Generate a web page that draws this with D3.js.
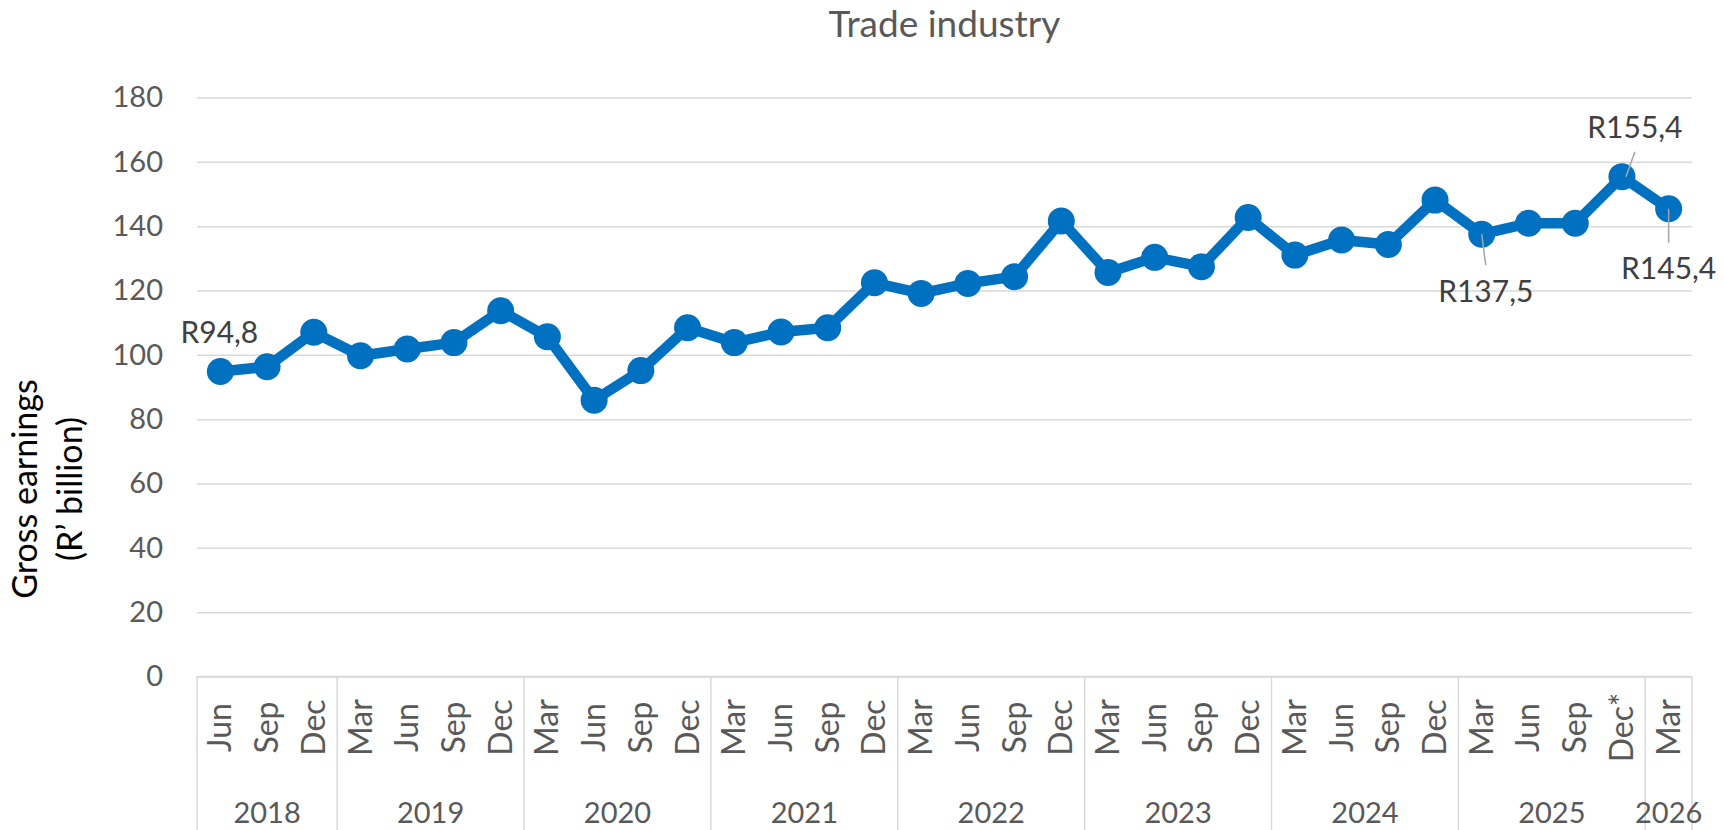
<!DOCTYPE html>
<html>
<head>
<meta charset="utf-8">
<script src="https://cdn.jsdelivr.net/npm/d3@7"></script>
<style>
  body { margin: 0; background: #fff; }
  svg text { font-family: Lato, "Open Sans", sans-serif; }
</style>
</head>
<body>
<div id="chart"></div>
<script>
// Data
const years = ["2018", "2019", "2020", "2021", "2022", "2023", "2024", "2025", "2026"];
const months = [
  ["Jun", "Sep", "Dec"],
  ["Mar", "Jun", "Sep", "Dec"],
  ["Mar", "Jun", "Sep", "Dec"],
  ["Mar", "Jun", "Sep", "Dec"],
  ["Mar", "Jun", "Sep", "Dec"],
  ["Mar", "Jun", "Sep", "Dec"],
  ["Mar", "Jun", "Sep", "Dec"],
  ["Mar", "Jun", "Sep", "Dec*"],
  ["Mar"]
];
const earnings = [
  94.8, 96.3, 107.0,
  99.7, 101.8, 103.8, 113.7,
  105.6, 85.9, 95.1, 108.4,
  103.8, 107.1, 108.4, 122.4,
  119.1, 122.2, 124.3, 141.6,
  125.6, 130.3, 127.4, 142.7,
  131.0, 135.7, 134.3, 148.1,
  137.5, 140.9, 140.9, 155.4,
  145.4
];
const yTicks = [0, 20, 40, 60, 80, 100, 120, 140, 160, 180];
const labelledPoints = [0, 27, 30, 31];

// flatten categories
const cats = [];
months.forEach((ms, yi) => ms.forEach(m => cats.push({ key: years[yi] + "-" + m, month: m, year: years[yi] })));

const W = 1724, H = 830;
const margin = { top: 97.5, right: 32, bottom: 153.5, left: 197 };
const width = W - margin.left - margin.right,
      height = H - margin.top - margin.bottom;

const svg = d3.select("#chart").append("svg")
    .attr("width", W)
    .attr("height", H);

const g = svg.append("g")
    .attr("transform", `translate(${margin.left},${margin.top})`);

const x = d3.scaleBand()
    .domain(cats.map(d => d.key))
    .range([0, width])
    .padding(0);

const y = d3.scaleLinear()
    .domain([0, 180])
    .range([height, 0]);

// Title
svg.append("text")
    .attr("x", margin.left + width / 2)
    .attr("y", 37)
    .attr("text-anchor", "middle")
    .attr("fill", "#595959")
    .style("font-size", "37px")
    .text("Trade industry");

// Y axis + gridlines
const yAxis = g.append("g")
    .call(d3.axisLeft(y).tickValues(yTicks).tickSize(-width).tickPadding(34));
yAxis.select(".domain").remove();
yAxis.selectAll(".tick line")
    .attr("stroke", "#D9D9D9")
    .attr("stroke-width", 1.5);
yAxis.selectAll(".tick text")
    .attr("fill", "#595959")
    .style("font-size", "29px");

// Y axis title
const yTitle = svg.append("text")
    .attr("transform", `translate(0,489) rotate(-90)`)
    .attr("text-anchor", "middle")
    .attr("fill", "#000")
    .style("font-size", "34px");
yTitle.append("tspan").attr("x", 0).attr("y", 37).text("Gross earnings");
yTitle.append("tspan").attr("x", 0).attr("y", 82).text("(R\u2019 billion)");

// Category axis
const catAxis = g.append("g")
    .attr("transform", `translate(0,${height})`);

catAxis.append("line")
    .attr("x1", 0).attr("x2", width)
    .attr("y1", 0).attr("y2", 0)
    .attr("stroke", "#D9D9D9")
    .attr("stroke-width", 1.5);

// group boundaries
let start = 0;
const groups = months.map((ms, yi) => {
  const grp = { year: years[yi], first: cats[start].key, last: cats[start + ms.length - 1].key };
  start += ms.length;
  return grp;
});
const boundaries = [0].concat(groups.map(gr => x(gr.last) + x.bandwidth()));
catAxis.selectAll(".sep")
    .data(boundaries)
    .enter().append("line")
    .attr("class", "sep")
    .attr("x1", d => d).attr("x2", d => d)
    .attr("y1", 0).attr("y2", H - margin.top - height)
    .attr("stroke", "#D9D9D9")
    .attr("stroke-width", 1.5);

catAxis.selectAll(".month")
    .data(cats)
    .enter().append("text")
    .attr("class", "month")
    .attr("transform", d => `translate(${x(d.key) + x.bandwidth() / 2 + 11},51) rotate(-90)`)
    .attr("text-anchor", "middle")
    .attr("fill", "#595959")
    .style("font-size", "32px")
    .text(d => d.month);

catAxis.selectAll(".year")
    .data(groups)
    .enter().append("text")
    .attr("class", "year")
    .attr("x", d => (x(d.first) + x(d.last) + x.bandwidth()) / 2)
    .attr("y", 146)
    .attr("text-anchor", "middle")
    .attr("fill", "#595959")
    .style("font-size", "29px")
    .text(d => d.year);

// Line + markers
const pts = cats.map((c, i) => ({ key: c.key, value: earnings[i] }));
const line = d3.line()
    .x(d => x(d.key) + x.bandwidth() / 2)
    .y(d => y(d.value));

g.append("path")
    .datum(pts)
    .attr("fill", "none")
    .attr("stroke", "#0070C0")
    .attr("stroke-width", 10.5)
    .attr("stroke-linejoin", "round")
    .attr("d", line);

g.selectAll(".dot")
    .data(pts)
    .enter().append("circle")
    .attr("class", "dot")
    .attr("cx", d => x(d.key) + x.bandwidth() / 2)
    .attr("cy", d => y(d.value))
    .attr("r", 13.5)
    .attr("fill", "#0070C0");

// Data labels with leader lines
const fmt = v => "R" + v.toFixed(1).replace(".", ",");
const labelOffsets = {
  0:  { dx: -1, dy: -29, leader: null },
  27: { dx: 4,  dy: 68,  leader: [31, 2] },
  30: { dx: 13, dy: -39, leader: [-25, 0] },
  31: { dx: 0,  dy: 70,  leader: [34, 1] }
};
labelledPoints.forEach(i => {
  const p = pts[i];
  const cx = x(p.key) + x.bandwidth() / 2, cy = y(p.value);
  const o = labelOffsets[i];
  if (o.leader) {
    const towardTop = o.dy < 0;
    g.append("line")
      .attr("x1", cx + (towardTop ? 4 : 0)).attr("y1", cy)
      .attr("x2", cx + o.dx).attr("y2", cy + (towardTop ? o.dy + 14 : o.leader[0]))
      .attr("stroke", "#A6A6A6")
      .attr("stroke-width", 1.5);
  }
  g.append("text")
    .attr("x", cx + o.dx)
    .attr("y", cy + o.dy)
    .attr("text-anchor", "middle")
    .attr("fill", "#404040")
    .style("font-size", "30px")
    .text(fmt(p.value));
});
</script>
</body>
</html>
